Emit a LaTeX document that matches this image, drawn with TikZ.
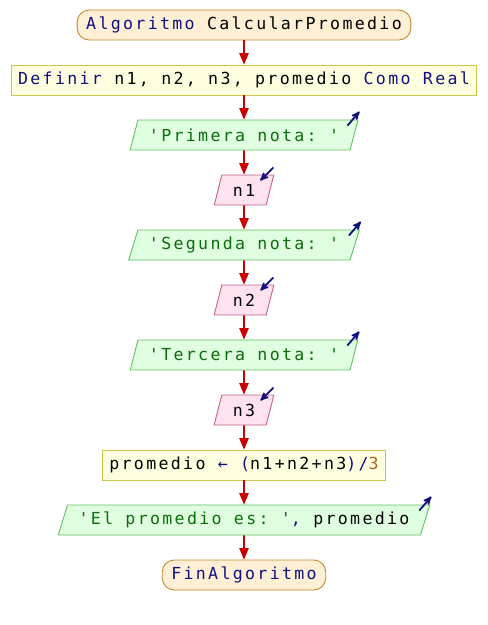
\documentclass[tikz,border=0pt]{standalone}
\usepackage{fontspec}
\setmonofont{DejaVu Sans Mono}[LetterSpace=14]
\usepackage{xcolor}
\usetikzlibrary{shapes.geometric, arrows, positioning}

\definecolor{termfill}{HTML}{FFEFD5}
\definecolor{termborder}{HTML}{C8882E}
\definecolor{procfill}{HTML}{FFFFE0}
\definecolor{procborder}{HTML}{C8C850}
\definecolor{outfill}{HTML}{E0FFE0}
\definecolor{outborder}{HTML}{60C060}
\definecolor{infill}{HTML}{FFE2F0}
\definecolor{inborder}{HTML}{C0608A}
\definecolor{flowred}{HTML}{CC0000}
\definecolor{kwblue}{HTML}{10107F}
\definecolor{strgreen}{HTML}{0A6E0A}
\definecolor{numbrown}{HTML}{B0602E}

\newcommand{\kw}[1]{\textcolor{kwblue}{#1}}
\newcommand{\strg}[1]{\textcolor{strgreen}{#1}}
\newcommand{\numb}[1]{\textcolor{numbrown}{#1}}

\begin{document}
\begin{tikzpicture}[x=1pt, y=1pt, node distance=55pt, font=\ttfamily\fontsize{16.6}{19}\selectfont]
\tikzstyle{terminal} = [rectangle, rounded corners=12pt, minimum height=30pt, inner xsep=9pt, line width=0.9pt, draw=termborder, fill=termfill]
\tikzstyle{process} = [rectangle, minimum height=30pt, inner xsep=7pt, line width=0.9pt, draw=procborder, fill=procfill]
\tikzstyle{output} = [trapezium, trapezium left angle=68, trapezium right angle=112, trapezium stretches body, minimum height=30pt, inner xsep=11pt, line width=0.9pt, draw=outborder, fill=outfill]
\tikzstyle{input} = [trapezium, trapezium left angle=68, trapezium right angle=112, trapezium stretches body, minimum height=30pt, inner xsep=11pt, line width=0.9pt, draw=inborder, fill=infill]
\tikzstyle{arrow} = [line width=1.7pt, draw=flowred, ->, >=triangle 45]
\tikzstyle{icon} = [line width=1.8pt, draw=kwblue, ->, >=stealth']

\useasboundingbox (0,0) rectangle (488,-625);

\node (start) [terminal] at (244,-25) {\kw{Algoritmo} CalcularPromedio};
\node (def) [process, below of=start] {\kw{Definir} n1, n2, n3, promedio \kw{Como Real}};
\node (o1) [output, below of=def] {\strg{'Primera nota: '}};
\node (i1) [input, below of=o1] {n1};
\node (o2) [output, below of=i1] {\strg{'Segunda nota: '}};
\node (i2) [input, below of=o2] {n2};
\node (o3) [output, below of=i2] {\strg{'Tercera nota: '}};
\node (i3) [input, below of=o3] {n3};
\node (calc) [process, below of=i3] {promedio \kw{←} \kw{(}n1+n2+n3\kw{)/}\numb{3}};
\node (o4) [output, below of=calc] {\strg{'El promedio es: '}\kw{,} promedio};
\node (stop) [terminal, below of=o4] {\kw{FinAlgoritmo}};

\draw [arrow] (start) -- (def);
\draw [arrow] (def) -- (o1);
\draw [arrow] (o1) -- (i1);
\draw [arrow] (i1) -- (o2);
\draw [arrow] (o2) -- (i2);
\draw [arrow] (i2) -- (o3);
\draw [arrow] (o3) -- (i3);
\draw [arrow] (i3) -- (calc);
\draw [arrow] (calc) -- (o4);
\draw [arrow] (o4) -- (stop);

% read / write marks
\foreach \o in {o1,o2,o3,o4}
  \draw [icon] (\o.top right corner) ++(-11,-6) -- ++(12,14);
\foreach \i in {i1,i2,i3}
  \draw [icon] (\i.top right corner) ++(-1,7) -- ++(-13,-13);
\end{tikzpicture}
\end{document}
